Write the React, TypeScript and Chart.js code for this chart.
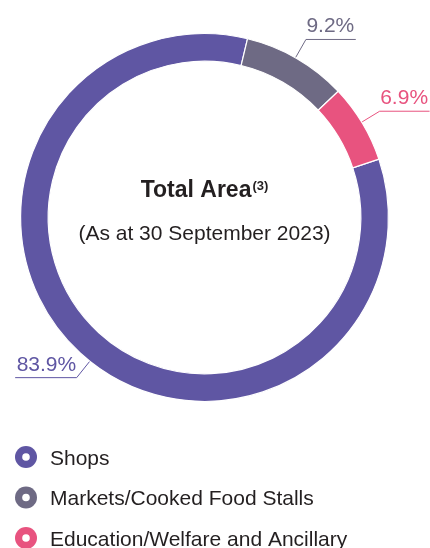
import React, { useEffect, useRef } from "react";
import { Chart, DoughnutController, ArcElement } from "chart.js";

Chart.register(DoughnutController, ArcElement);

// ---- data ----
const categories = ["Shops", "Markets/Cooked Food Stalls", "Education/Welfare and Ancillary"];
const shares = [83.9, 9.2, 6.9];
const shareLabels = ["83.9%", "9.2%", "6.9%"];
const sliceColors = ["#5F56A3", "#6E6A84", "#E8537F"];
const titleText = "Total Area";
const titleNote = "(3)";
const subtitleText = "(As at 30 September 2023)";

// ---- styles ----
const FONT = '"Liberation Sans", Arial, Helvetica, sans-serif';
const TEXT = "#231F20";

const centerTextPlugin = {
  id: "centerText",
  afterDatasetsDraw(chart: any) {
    const arc = chart.getDatasetMeta(0).data[0];
    if (!arc) return;
    const { x, y } = arc;
    const ctx = chart.ctx;
    ctx.save();
    ctx.fillStyle = TEXT;
    ctx.textBaseline = "alphabetic";
    // title
    ctx.font = `bold 23px ${FONT}`;
    const tw = ctx.measureText(titleText).width;
    ctx.font = `bold 13px ${FONT}`;
    const nw = ctx.measureText(titleNote).width;
    const startX = x - (tw + nw + 1) / 2;
    ctx.textAlign = "left";
    ctx.font = `bold 23px ${FONT}`;
    ctx.fillText(titleText, startX, y - 20.5);
    ctx.font = `bold 13px ${FONT}`;
    ctx.fillText(titleNote, startX + tw + 1, y - 27.5);
    // subtitle
    ctx.font = `21px ${FONT}`;
    ctx.textAlign = "center";
    ctx.fillText(subtitleText, x, y + 22.5);
    ctx.restore();
  },
};

const leaderLabelPlugin = {
  id: "leaderLabels",
  afterDatasetsDraw(chart: any) {
    const meta = chart.getDatasetMeta(0);
    const ctx = chart.ctx;
    ctx.save();
    ctx.font = `21px ${FONT}`;
    ctx.lineWidth = 1;
    meta.data.forEach((el: any, i: number) => {
      const { x, y, startAngle, endAngle, outerRadius } = el.getProps(
        ["x", "y", "startAngle", "endAngle", "outerRadius"],
        true
      );
      const a = startAngle + (endAngle - startAngle) * 0.487;
      const cos = Math.cos(a);
      const sin = Math.sin(a);
      const x0 = x + cos * (outerRadius + 0.5);
      const y0 = y + sin * (outerRadius + 0.5);
      const x1 = x + cos * (outerRadius + 21);
      const y1 = y + sin * (outerRadius + 21);
      const label = shareLabels[i];
      const w = ctx.measureText(label).width;
      const dir = cos >= 0 ? 1 : -1;
      const x2 = x1 + dir * (w + 2);
      ctx.strokeStyle = sliceColors[i];
      ctx.fillStyle = sliceColors[i];
      ctx.beginPath();
      ctx.moveTo(x0, y0);
      ctx.lineTo(x1, y1);
      ctx.lineTo(x2, y1);
      ctx.stroke();
      ctx.textBaseline = "alphabetic";
      ctx.textAlign = dir > 0 ? "left" : "right";
      ctx.fillText(label, x1 + dir * 0.5, y1 - 7);
    });
    ctx.restore();
  },
};

const ringLegendPlugin = {
  id: "ringLegend",
  afterDraw(chart: any) {
    const ctx = chart.ctx;
    const labels: string[] = chart.data.labels;
    const colors: string[] = chart.data.datasets[0].backgroundColor;
    ctx.save();
    ctx.font = `21px ${FONT}`;
    ctx.textAlign = "left";
    ctx.textBaseline = "alphabetic";
    labels.forEach((lab, i) => {
      const cy = 457 + i * 40.5;
      const cx = 26;
      ctx.fillStyle = colors[i];
      ctx.beginPath();
      ctx.arc(cx, cy, 11, 0, Math.PI * 2);
      ctx.fill();
      ctx.fillStyle = "#FFFFFF";
      ctx.beginPath();
      ctx.arc(cx, cy, 3.8, 0, Math.PI * 2);
      ctx.fill();
      ctx.fillStyle = TEXT;
      ctx.fillText(lab, 50, cy + 7.5);
    });
    ctx.restore();
  },
};

export default function App() {
  const canvasRef = useRef<HTMLCanvasElement | null>(null);

  useEffect(() => {
    const canvas = canvasRef.current;
    if (!canvas) return;
    const chart = new Chart(canvas, {
      type: "doughnut",
      data: {
        labels: categories,
        datasets: [
          {
            data: shares,
            backgroundColor: sliceColors,
            borderColor: "#FFFFFF",
            borderWidth: 1.2,
          },
        ],
      },
      options: {
        responsive: false,
        animation: false,
        devicePixelRatio: 1,
        cutout: "85%",
        rotation: 71.5,
        layout: { padding: { left: 20, top: 33, right: 41, bottom: 146 } },
        plugins: {
          legend: { display: false },
          tooltip: { enabled: false },
        },
        events: [],
      },
      plugins: [centerTextPlugin, leaderLabelPlugin, ringLegendPlugin],
    } as any);
    return () => chart.destroy();
  }, []);

  return (
    <div style={{ position: "absolute", left: 0, top: 0, width: 430, height: 548, background: "#FFFFFF" }}>
      <canvas ref={canvasRef} width={430} height={548} style={{ display: "block", width: 430, height: 548 }} />
    </div>
  );
}
